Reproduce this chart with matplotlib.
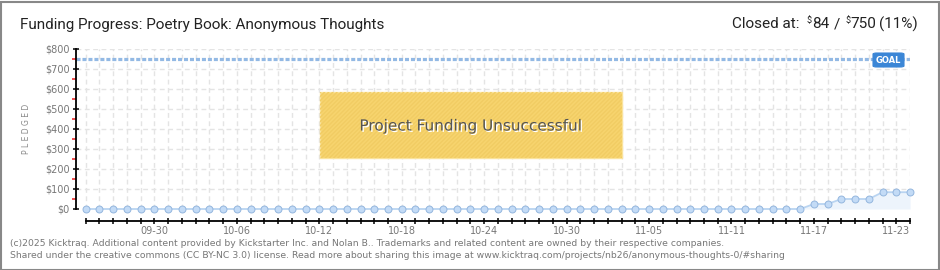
import matplotlib
matplotlib.use("Agg")
import matplotlib.pyplot as plt
from matplotlib.patches import Rectangle, FancyBboxPatch
import matplotlib.patheffects as pe
import numpy as np
import pandas as pd

# ---- data ----
start_date = "2025-09-25"
n_days = 61
pledged = [0] * 53 + [25, 25, 50, 50, 50, 84, 84, 84]
goal = 750
y_ticks = [0, 100, 200, 300, 400, 500, 600, 700, 800]
y_tick_labels = ["$0", "$100", "$200", "$300", "$400", "$500", "$600", "$700", "$800"]
title = "Funding Progress: Poetry Book: Anonymous Thoughts"
closed_parts = ["Closed at:", "$", "84", "/", "$", "750", "(11%)"]
footer1 = ("(c)2025 Kicktraq. Additional content provided by Kickstarter Inc. and Nolan B.. "
           "Trademarks and related content are owned by their respective companies.")
footer2 = ("Shared under the creative commons (CC BY-NC 3.0) license. Read more about sharing "
           "this image at www.kicktraq.com/projects/nb26/anonymous-thoughts-0/#sharing")

dates = pd.date_range(start_date, periods=n_days, freq="D")
x = np.arange(n_days)
labels = [d.strftime("%m-%d") if (i - 5) % 6 == 0 else "" for i, d in enumerate(dates)]

plt.rcParams["font.family"] = ["DejaVu Sans"]
plt.rcParams["lines.scale_dashes"] = False

W, H = 940, 270
fig = plt.figure(figsize=(W / 100, H / 100), dpi=100)
fig.patch.set_facecolor("white")

def fx(px):
    return px / W

def fy(py):
    return 1 - py / H

ax = fig.add_axes([fx(75.7), fy(209), fx(910.5 - 75.7), (209 - 49) / H])
ax.set_xlim(-0.73, 60.03)
ax.set_ylim(0, 800)

# grid
for xi in x:
    ax.axvline(xi, color="#e4e4e4", lw=1.0, dashes=(3.5, 2.5), zorder=0)
for yv in y_ticks[1:]:
    ax.axhline(yv, color="#e4e4e4", lw=1.0, dashes=(3.5, 2.5), zorder=0)

# goal line
ax.axhline(goal, color="#93b9e4", lw=2.3, dashes=(2.9, 1.4), zorder=2)

# fill + line + markers
ax.fill_between(x, 0, pledged, color="#edf4fc", zorder=1, lw=0)
ax.plot(x, pledged, color="#b9d4f1", lw=1.3, zorder=3,
        marker="o", ms=5.0, mfc="#c3dbf6", mec="#94b6de", mew=0.7, clip_on=False)

# spines / ticks
for s in ["top", "right"]:
    ax.spines[s].set_visible(False)
ax.spines["left"].set_color("black")
ax.spines["left"].set_linewidth(1.3)
ax.spines["bottom"].set_position(("outward", 8.6))
ax.spines["bottom"].set_bounds(0, n_days - 1)
ax.spines["bottom"].set_linewidth(1.3)

ax.set_yticks(y_ticks)
ax.set_yticklabels(y_tick_labels)
ax.set_yticks([50, 150, 250, 350, 450, 550, 650, 750], minor=True)
ax.tick_params(axis="y", which="major", direction="inout", length=5, width=1.1,
               color="black", labelcolor="#777777", labelsize=7, pad=2)
ax.tick_params(axis="y", which="minor", direction="out", length=3, width=1.1, color="#ee2222")

ax.set_xticks(x)
ax.set_xticklabels(labels)
ax.tick_params(axis="x", which="major", direction="inout", length=5, width=1.1,
               color="black", labelcolor="#777777", labelsize=7, pad=1.5)

ax.set_ylabel("P L E D G E D", fontsize=5.5, color="#888888", labelpad=12)
ax.yaxis.set_label_coords(fx(31 - 75.7) / fx(910.5 - 75.7), 0.5)

# goal tag
tag = FancyBboxPatch((fx(873), fy(67)), fx(31), (67 - 53) / H,
                     boxstyle="round,pad=0,rounding_size=0.004",
                     transform=fig.transFigure, facecolor="#3b86d6", edgecolor="#3b86d6",
                     lw=0.8, zorder=5)
fig.patches.append(tag)
fig.text(fx(888.5), fy(60.5), "GOAL", color="white", fontsize=6, fontweight="bold",
         ha="center", va="center", zorder=6)

# unsuccessful box
box = Rectangle((fx(320), fy(158)), fx(302), (158 - 92) / H, transform=fig.transFigure,
                facecolor="#f7d46e", edgecolor="#fae39c", lw=1, zorder=4)
fig.patches.append(box)
hatch = Rectangle((fx(320), fy(158)), fx(302), (158 - 92) / H, transform=fig.transFigure,
                  facecolor="none", edgecolor="#f1cc63", lw=0, hatch="////////", zorder=4)
fig.patches.append(hatch)
fig.text(fx(471), fy(126), "Project Funding Unsuccessful", fontsize=11, color="#555555",
         ha="center", va="center", zorder=6,
         path_effects=[pe.withSimplePatchShadow(offset=(1, -1), shadow_rgbFace="white", alpha=1.0)])

# title
fig.text(fx(20), fy(24.5), title, fontsize=11, color="#222222", ha="left", va="center",
         family=["Roboto", "DejaVu Sans"])

# closed at text, laid out right-to-left
fig.canvas.draw()
r = fig.canvas.get_renderer()
xr = 918
sizes = [11, 6.5, 11, 11, 6.5, 11, 11]
raise_px = [0, 4, 0, 0, 4, 0, 0]
left_gaps = [0, 7, 0, 5, 5, 0, 3]
for part, sz, rp, gp in reversed(list(zip(closed_parts, sizes, raise_px, left_gaps))):
    t = fig.text(fx(xr), fy(24.5) + rp / H, part, fontsize=sz, color="#222222",
                 ha="right", va="center", family=["Roboto", "DejaVu Sans"])
    bb = t.get_window_extent(r)
    xr = xr - bb.width - gp

# footer
fig.text(fx(10), fy(243), footer1, fontsize=6.65, color="#777777", ha="left", va="center")
fig.text(fx(10), fy(256), footer2, fontsize=6.65, color="#777777", ha="left", va="center")

# border
fig.patches.append(Rectangle((0.5 / W, 0.5 / H), 1 - 2 / W, 1 - 2 / H, transform=fig.transFigure,
                             facecolor="none", edgecolor="#888888", lw=1.5, zorder=10))

fig.savefig("out.png", dpi=100, facecolor="white")
